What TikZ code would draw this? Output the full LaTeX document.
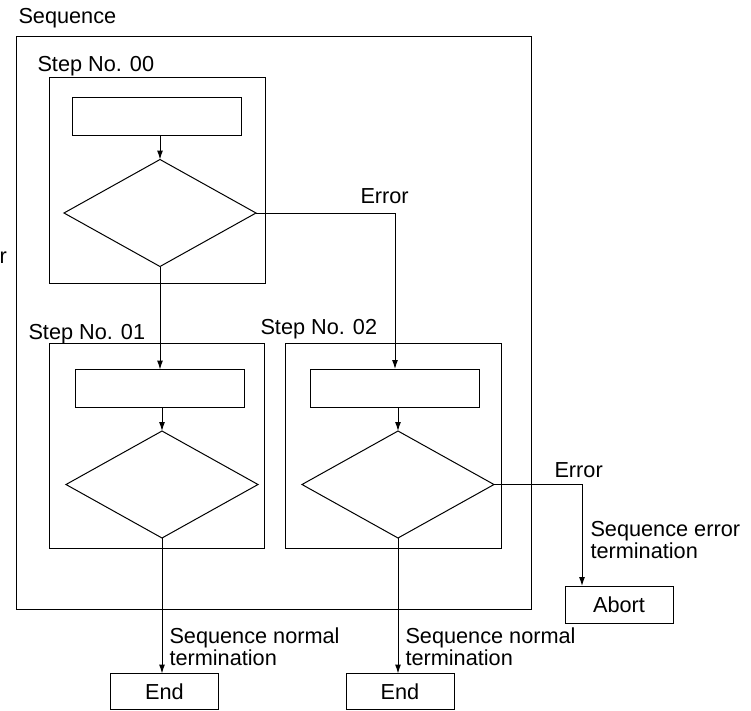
\documentclass[tikz,border=0pt]{standalone}
\usepackage{fontspec}
\setmainfont{Liberation Sans}
\usetikzlibrary{shapes.geometric,arrows.meta}

\begin{document}
\begin{tikzpicture}[x=1pt, y=-1pt, line width=1pt, >={Latex[length=9pt,width=6pt]},
  font=\fontsize{21.7}{20}\selectfont,
  frame/.style={draw, rectangle, inner sep=0pt, outer sep=0pt},
  proc/.style={draw, rectangle, minimum width=169pt, minimum height=38pt, inner sep=0pt, outer sep=0pt},
  decision/.style={draw, diamond, minimum width=192pt, minimum height=107pt, inner sep=0pt, outer sep=0pt},
  term/.style={draw, rectangle, minimum width=108pt, minimum height=36pt, inner sep=0pt, outer sep=0pt},
  lbl/.style={inner sep=0pt, anchor=base west, align=left}]

\useasboundingbox (0,0) rectangle (751,710);

% outer sequence frame
\node[frame, minimum width=515pt, minimum height=573pt] (seq) at (273.5,322.5) {};
\node[lbl] (seqlbl) at (18,23) {Sequence};
\node[lbl] (cut) at (-1,263) {r};

% step 00
\node[frame, minimum width=216pt, minimum height=206pt] (step0) at (157,180) {};
\node[lbl] (step0lbl) at (37,71) {Step No. 00};
\node[proc] (p0) at (156.5,116) {};
\node[decision] (d0) at (160,213) {};

% step 01
\node[frame, minimum width=215pt, minimum height=205pt] (step1) at (156.5,445.5) {};
\node[lbl] (step1lbl) at (28,339) {Step No. 01};
\node[proc] (p1) at (159.5,388.5) {};
\node[decision] (d1) at (162,484.5) {};

% step 02
\node[frame, minimum width=216pt, minimum height=205pt] (step2) at (393,445.5) {};
\node[lbl] (step2lbl) at (260,334) {Step No. 02};
\node[proc] (p2) at (394.5,388) {};
\node[decision] (d2) at (398,484.5) {};

% terminations
\node[term] (end1) at (164.5,691.5) {End};
\node[term] (end2) at (400,691.5) {End};
\node[term, minimum height=37pt] (abort) at (619,604.5) {Abort};

\coordinate (e0) at (395,369);
\coordinate (e1) at (582,586);

\draw[->] (d0.north |- p0.south) -- (d0.north);
\draw[->] (d0.south) -- (d0.south |- p1.north);
\draw[->] (d0.east) -| (e0);
\node[lbl] (err0) at (360,203) {Error};

\draw[->] (d1.north |- p1.south) -- (d1.north);
\draw[->] (d2.north |- p2.south) -- (d2.north);

\draw[->] (d1.south) -- (d1.south |- end1.north);
\node[lbl] (norm1) at (169,665) {Sequence normal\\termination};
\draw[->] (d2.south) -- (d2.south |- end2.north);
\node[lbl] (norm2) at (405,665) {Sequence normal\\termination};

\draw[->] (d2.east) -| (e1);
\node[lbl] (err1) at (554,477) {Error};
\node[lbl] (errterm) at (590,558) {Sequence error\\termination};

\end{tikzpicture}
\end{document}
